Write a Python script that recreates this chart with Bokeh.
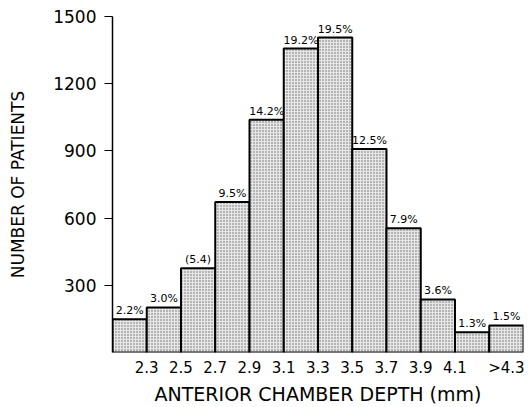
from bokeh.plotting import figure
from bokeh.models import ColumnDataSource, FixedTicker, LabelSet, Range1d
from bokeh.core.properties import value
from bokeh.embed import file_html
from bokeh.resources import INLINE

# ---- data ----
bin_left = [2.1, 2.3, 2.5, 2.7, 2.9, 3.1, 3.3, 3.5, 3.7, 3.9, 4.1, 4.3]
bin_right = [2.3, 2.5, 2.7, 2.9, 3.1, 3.3, 3.5, 3.7, 3.9, 4.1, 4.3, 4.5]
patients = [148, 201, 376, 672, 1039, 1357, 1406, 909, 555, 237, 90, 121]
pct_labels = ["2.2%", "3.0%", "(5.4)", "9.5%", "14.2%", "19.2%", "19.5%",
              "12.5%", "7.9%", "3.6%", "1.3%", "1.5%"]
x_tick_pos = [2.3, 2.5, 2.7, 2.9, 3.1, 3.3, 3.5, 3.7, 3.9, 4.1, 4.4]
x_tick_text = ["2.3", "2.5", "2.7", "2.9", "3.1", "3.3", "3.5", "3.7", "3.9", "4.1", ">4.3"]
y_ticks = [300, 600, 900, 1200, 1500]

FONT = "DejaVu Sans"

src = ColumnDataSource(dict(
    left=bin_left, right=bin_right, top=patients,
    bottom=[0] * len(patients),
    mid=[(a + b) / 2 for a, b in zip(bin_left, bin_right)],
    lab=pct_labels,
))

p = figure(width=530, height=407, output_backend="svg", toolbar_location=None,
           x_range=Range1d(bin_left[0], bin_right[-1]), y_range=Range1d(0, 1500),
           min_border_left=112, min_border_top=16, min_border_right=7, min_border_bottom=0)
p.outline_line_color = None
p.grid.visible = False
p.background_fill_color = "white"
p.border_fill_color = "white"

p.quad(left="left", right="right", top="top", bottom="bottom", source=src,
       fill_color="#e6e6e6", line_color="black", line_width=2,
       hatch_pattern="dot", hatch_color="#6a6a6a", hatch_scale=3, hatch_weight=1)

labels = LabelSet(x="mid", y="top", text="lab", source=src, text_align="center",
                  text_baseline="bottom", y_offset=2, text_font=value(FONT),
                  text_font_size=value("11px"), text_color="black")
p.add_layout(labels)

# y axis
ya = p.yaxis[0]
ya.ticker = FixedTicker(ticks=y_ticks)
ya.axis_line_color = "black"
ya.axis_line_width = 1.5
ya.major_tick_out = 8
ya.major_tick_in = 0
ya.major_tick_line_width = 1.2
ya.major_tick_line_color = "black"
ya.minor_tick_line_color = None
ya.major_label_text_font = FONT
ya.major_label_text_font_size = "17px"
ya.major_label_text_color = "black"
ya.major_label_standoff = 8
ya.axis_label = "NUMBER OF PATIENTS"
ya.axis_label_text_font = FONT
ya.axis_label_text_font_size = "17px"
ya.axis_label_text_font_style = "normal"
ya.axis_label_text_color = "black"
ya.axis_label_standoff = 22

# x axis
xa = p.xaxis[0]
xa.ticker = FixedTicker(ticks=x_tick_pos)
xa.major_label_overrides = {t: s for t, s in zip(x_tick_pos, x_tick_text)}
xa.axis_line_color = None
xa.major_tick_line_color = None
xa.minor_tick_line_color = None
xa.major_label_text_font = FONT
xa.major_label_text_font_size = "15px"
xa.major_label_text_color = "black"
xa.major_label_standoff = 0
xa.axis_label = "ANTERIOR CHAMBER DEPTH (mm)"
xa.axis_label_text_font = FONT
xa.axis_label_text_font_size = "19px"
xa.axis_label_text_font_style = "normal"
xa.axis_label_text_color = "black"
xa.axis_label_standoff = 3

open("out.html", "w").write(file_html(p, INLINE))
